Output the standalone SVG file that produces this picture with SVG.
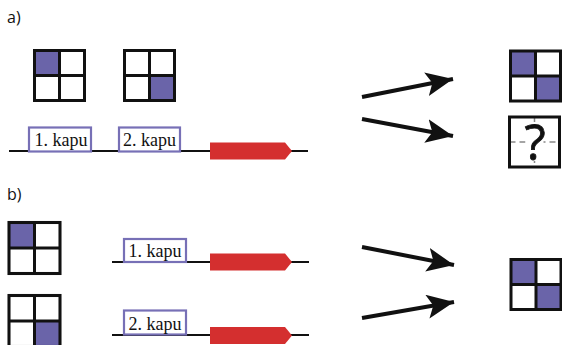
<svg xmlns="http://www.w3.org/2000/svg" width="562" height="345" viewBox="0 0 562 345">
  <style>
    .lbl { font-family: "Open Sans", "Liberation Sans", sans-serif; font-size: 16px; fill: #111; }
    .kapu { font-family: "Liberation Serif", serif; font-size: 18px; fill: #111; }
    .kbox { fill: #fff; stroke: #7770b6; stroke-width: 2.2; }
    .dna { stroke: #111; stroke-width: 2; fill: none; }
    .gene { fill: #d42f2f; }
    .cell { fill: #fff; }
    .on { fill: #6a64a9; }
    .grid { fill: none; stroke: #111; stroke-width: 3; }
    .conn { stroke: #111; stroke-width: 4; fill: none; marker-end: url(#head); }
    .guide { stroke: #888; stroke-width: 1.5; stroke-dasharray: 6 4; }
  </style>
  <defs>
    <marker id="head" markerUnits="userSpaceOnUse" markerWidth="32" markerHeight="26" refX="27" refY="12" orient="auto">
      <path d="M0,0 L27,12 L0,24 L6,12 Z" fill="#111"/>
    </marker>
    <!-- 2x2 grid outline, 50 units square -->
    <g id="frame">
      <rect class="grid" x="0" y="0" width="50" height="50"/>
      <line class="grid" x1="25" y1="0" x2="25" y2="50"/>
      <line class="grid" x1="0" y1="25" x2="50" y2="25"/>
    </g>
  </defs>

  <rect width="562" height="345" fill="#fff"/>

  <text class="lbl" x="7" y="23">a)</text>
  <text class="lbl" x="7" y="200">b)</text>

  <!-- panel a: gene with two enhancers -->
  <g id="gene-a">
    <line class="dna" x1="9" y1="151" x2="308" y2="151"/>
    <path class="gene" d="M210,142.5 H285 L292,151 L285,159.5 H210 Z"/>
  </g>
  <g id="kapu-a1">
    <rect class="kbox" x="29" y="127.5" width="62" height="24"/>
    <text class="kapu" x="34.5" y="146">1. kapu</text>
  </g>
  <g id="kapu-a2">
    <rect class="kbox" x="119" y="127.5" width="61" height="24"/>
    <text class="kapu" x="123" y="146">2. kapu</text>
  </g>

  <g id="grid-a1" transform="translate(34.5,50.5)">
    <rect class="on" x="0" y="0" width="25" height="25"/>
    <use href="#frame"/>
  </g>
  <g id="grid-a2" transform="translate(124.5,50.5)">
    <rect class="on" x="25" y="25" width="25" height="25"/>
    <use href="#frame"/>
  </g>
  <g id="grid-a-out" transform="translate(510.5,51)">
    <rect class="on" x="0" y="0" width="25" height="25"/>
    <rect class="on" x="25" y="25" width="25" height="25"/>
    <use href="#frame"/>
  </g>
  <g id="grid-a-unknown" transform="translate(509.5,117)">
    <line class="guide" x1="0" y1="25" x2="50" y2="25"/>
    <line class="guide" x1="25" y1="0" x2="25" y2="50"/>
    <rect class="cell" x="16" y="5" width="18" height="39"/>
    <rect class="grid" x="0" y="0" width="50" height="50"/>
    <text x="25.5" y="43" text-anchor="middle" font-family="'Open Sans', 'Liberation Sans', sans-serif" font-size="49" fill="#111" stroke="#111" stroke-width="0.8">?</text>
  </g>

  <!-- panel b: one enhancer per construct -->
  <g id="gene-b1">
    <line class="dna" x1="112" y1="262" x2="309" y2="262"/>
    <path class="gene" d="M210,253.5 H285 L292,262 L285,270.5 H210 Z"/>
  </g>
  <g id="kapu-b1">
    <rect class="kbox" x="124" y="239" width="62" height="23"/>
    <text class="kapu" x="128.5" y="257">1. kapu</text>
  </g>
  <g id="gene-b2">
    <line class="dna" x1="112" y1="335" x2="309" y2="335"/>
    <path class="gene" d="M210,327 H285 L292,335.5 L285,344 H210 Z"/>
  </g>
  <g id="kapu-b2">
    <rect class="kbox" x="124" y="310.5" width="62" height="24"/>
    <text class="kapu" x="128.5" y="330">2. kapu</text>
  </g>

  <g id="grid-b1" transform="translate(9,222.5)">
    <rect class="on" x="0" y="0" width="25.5" height="25.5"/>
    <g transform="scale(1.02)"><use href="#frame"/></g>
  </g>
  <g id="grid-b2" transform="translate(9,295.5)">
    <rect class="on" x="25.5" y="25.5" width="25.5" height="25.5"/>
    <g transform="scale(1.02)"><use href="#frame"/></g>
  </g>
  <g id="grid-b-out" transform="translate(511,259.5)">
    <rect class="on" x="0" y="0" width="25" height="25"/>
    <rect class="on" x="25" y="25" width="25" height="25"/>
    <use href="#frame"/>
  </g>

  <g id="connectors">
    <line class="conn" x1="362" y1="97" x2="453" y2="79"/>
    <line class="conn" x1="362" y1="119" x2="453" y2="136"/>
    <line class="conn" x1="362" y1="247" x2="454" y2="265"/>
    <line class="conn" x1="362" y1="318" x2="454" y2="302"/>
  </g>
</svg>
